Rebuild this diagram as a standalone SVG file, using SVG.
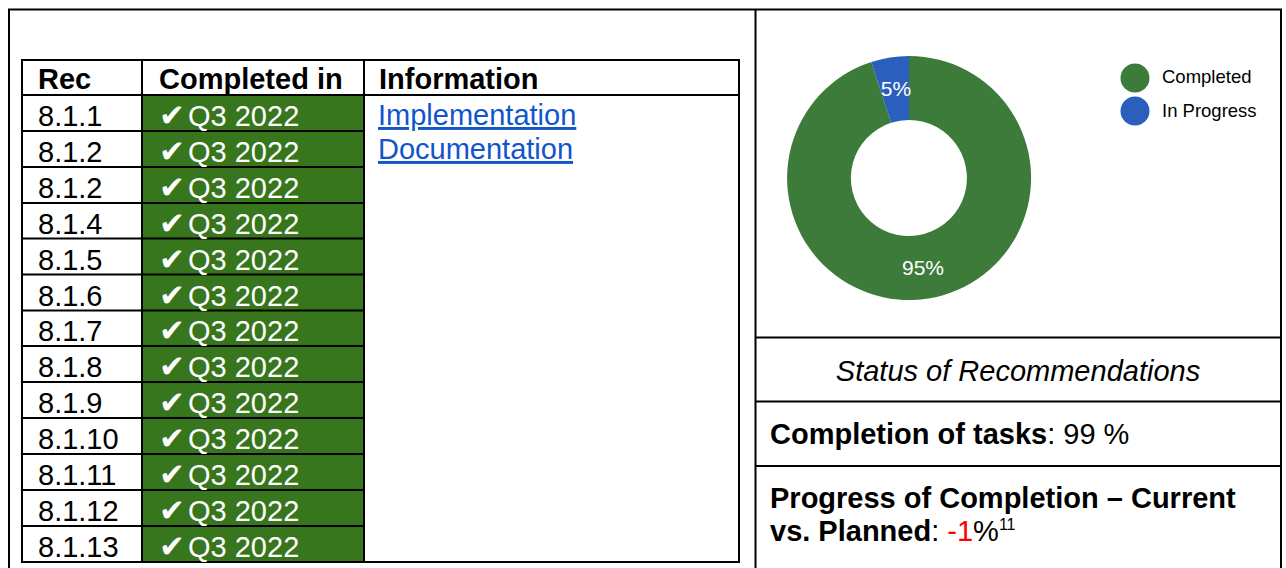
<svg xmlns="http://www.w3.org/2000/svg" width="1286" height="568" viewBox="0 0 1286 568">
<style>
.ln{stroke:#000;stroke-width:2;fill:none}
.t{font-family:"Liberation Sans",Arial,sans-serif;font-size:29px;fill:#000}
.b{font-weight:bold}
.w{fill:#fff}
.ck{font-family:"DejaVu Sans",sans-serif;font-size:31px}
.lk{fill:#1155cc;text-decoration:underline}
.cell{fill:#38761d}
.lg{font-family:"Liberation Sans",Arial,sans-serif;font-size:18.5px;fill:#000}
.pct{font-family:"Liberation Sans",Arial,sans-serif;font-size:21px;fill:#fff;text-anchor:middle}
</style>
<rect width="1286" height="568" fill="#fff"/>
<g id="frame">
<rect class="ln" x="9" y="9.5" width="1272" height="580"/>
<line class="ln" x1="755.5" y1="9.5" x2="755.5" y2="568"/>
<line class="ln" x1="755.5" y1="337.5" x2="1281" y2="337.5"/>
<line class="ln" x1="755.5" y1="401.5" x2="1281" y2="401.5"/>
<line class="ln" x1="755.5" y1="466" x2="1281" y2="466"/>
</g>
<g id="table">
<rect class="cell" x="142" y="95" width="222" height="467"/>
<rect class="ln" x="22" y="60" width="717" height="502"/>
<line class="ln" x1="22" y1="95" x2="739" y2="95"/>
<line class="ln" x1="142" y1="60" x2="142" y2="562"/>
<line class="ln" x1="364" y1="60" x2="364" y2="562"/>
<g class="ln">
<line x1="22" y1="131" x2="364" y2="131"/>
<line x1="22" y1="167" x2="364" y2="167"/>
<line x1="22" y1="203" x2="364" y2="203"/>
<line x1="22" y1="238.5" x2="364" y2="238.5"/>
<line x1="22" y1="274.5" x2="364" y2="274.5"/>
<line x1="22" y1="310.5" x2="364" y2="310.5"/>
<line x1="22" y1="346" x2="364" y2="346"/>
<line x1="22" y1="382" x2="364" y2="382"/>
<line x1="22" y1="418" x2="364" y2="418"/>
<line x1="22" y1="454" x2="364" y2="454"/>
<line x1="22" y1="490" x2="364" y2="490"/>
<line x1="22" y1="526" x2="364" y2="526"/>
</g>
<text class="t b" x="38" y="89">Rec</text>
<text class="t b" x="159" y="89">Completed in</text>
<text class="t b" x="379" y="89">Information</text>
<g class="t">
<text x="38" y="126">8.1.1</text>
<text x="38" y="162">8.1.2</text>
<text x="38" y="198">8.1.2</text>
<text x="38" y="233.5">8.1.4</text>
<text x="38" y="269.5">8.1.5</text>
<text x="38" y="305.5">8.1.6</text>
<text x="38" y="341">8.1.7</text>
<text x="38" y="377">8.1.8</text>
<text x="38" y="413">8.1.9</text>
<text x="38" y="449">8.1.10</text>
<text x="38" y="485">8.1.11</text>
<text x="38" y="521">8.1.12</text>
<text x="38" y="557">8.1.13</text>
</g>
<g class="t w">
<text x="159" y="126"><tspan class="ck">✔</tspan><tspan x="188">Q3 2022</tspan></text>
<text x="159" y="162"><tspan class="ck">✔</tspan><tspan x="188">Q3 2022</tspan></text>
<text x="159" y="198"><tspan class="ck">✔</tspan><tspan x="188">Q3 2022</tspan></text>
<text x="159" y="233.5"><tspan class="ck">✔</tspan><tspan x="188">Q3 2022</tspan></text>
<text x="159" y="269.5"><tspan class="ck">✔</tspan><tspan x="188">Q3 2022</tspan></text>
<text x="159" y="305.5"><tspan class="ck">✔</tspan><tspan x="188">Q3 2022</tspan></text>
<text x="159" y="341"><tspan class="ck">✔</tspan><tspan x="188">Q3 2022</tspan></text>
<text x="159" y="377"><tspan class="ck">✔</tspan><tspan x="188">Q3 2022</tspan></text>
<text x="159" y="413"><tspan class="ck">✔</tspan><tspan x="188">Q3 2022</tspan></text>
<text x="159" y="449"><tspan class="ck">✔</tspan><tspan x="188">Q3 2022</tspan></text>
<text x="159" y="485"><tspan class="ck">✔</tspan><tspan x="188">Q3 2022</tspan></text>
<text x="159" y="521"><tspan class="ck">✔</tspan><tspan x="188">Q3 2022</tspan></text>
<text x="159" y="557"><tspan class="ck">✔</tspan><tspan x="188">Q3 2022</tspan></text>
</g>
<text class="t lk" x="378" y="125">Implementation</text>
<text class="t lk" x="378" y="159">Documentation</text>
</g>
<g id="chart">
<path d="M909,56 A122,122 0 1 1 871.3,62 L891.1,122.8 A58,58 0 1 0 909,120 Z" fill="#3d7b3a"/>
<path d="M909,56 A122,122 0 0 0 871.3,62 L891.1,122.8 A58,58 0 0 1 909,120 Z" fill="#2a5fbd"/>
<text class="pct" x="896" y="96">5%</text>
<text class="pct" x="923" y="275">95%</text>
<circle cx="1135" cy="78" r="14.5" fill="#3d7b3a"/>
<circle cx="1135" cy="111" r="14.5" fill="#2a5fbd"/>
<text class="lg" x="1162" y="83">Completed</text>
<text class="lg" x="1162" y="117">In Progress</text>
</g>
<g id="status">
<text class="t" x="1018" y="381" text-anchor="middle" font-style="italic">Status of Recommendations</text>
<text class="t" x="770" y="444" font-size="28"><tspan class="b">Completion of tasks</tspan>: 99 %</text>
<text class="t b" x="770" y="508">Progress of Completion – Current</text>
<text class="t" x="770" y="541"><tspan class="b">vs. Planned</tspan>: <tspan fill="#ff0000">-1</tspan>%<tspan font-size="16" dy="-11">11</tspan></text>
</g>
</svg>
